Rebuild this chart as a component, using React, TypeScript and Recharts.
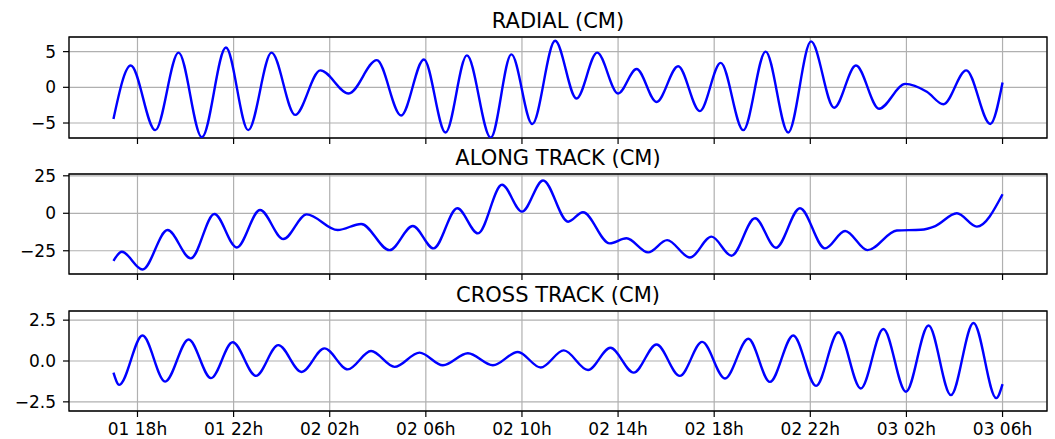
import React from "react";
import { LineChart, Line, XAxis, YAxis, CartesianGrid, ReferenceArea } from "recharts";

// ---- Data (hours since 01 00h) ----
const xTicks = [18, 22, 26, 30, 34, 38, 42, 46, 50, 54];
const xTickLabels = ["01 18h", "01 22h", "02 02h", "02 06h", "02 10h", "02 14h", "02 18h", "02 22h", "03 02h", "03 06h"];
const xDomain: [number, number] = [15.15, 55.85];

const radialTimes = [17.0, 17.72, 18.74, 19.71, 20.68, 21.68, 22.61, 23.58, 24.56, 25.61, 26.79, 27.96, 28.97, 29.92, 30.82, 31.71, 32.7, 33.56, 34.43, 35.38, 36.27, 37.13, 38.0, 38.77, 39.6, 40.5, 41.4, 42.27, 43.21, 44.14, 45.08, 46.03, 46.99, 47.9, 48.86, 49.95, 50.85, 51.54, 52.49, 53.49, 54.0];
const radialValues = [-4.43, 3.05, -6.0, 4.86, -7.0, 5.57, -6.0, 4.86, -3.86, 2.38, -0.86, 3.81, -3.95, 3.9, -6.33, 4.48, -7.05, 4.62, -5.14, 6.52, -1.57, 4.86, -0.86, 2.57, -2.05, 2.95, -3.33, 3.43, -6.0, 5.0, -6.33, 6.43, -2.86, 3.05, -3.0, 0.48, -0.62, -2.38, 2.38, -5.14, 0.67];
const radialTicks = [-5, 0, 5];
const radialTickLabels = ["\u22125", "0", "5"];

const alongTimes = [17.0, 17.35, 18.21, 19.25, 20.22, 21.2, 22.13, 23.1, 24.07, 25.04, 26.33, 27.31, 28.49, 29.46, 30.32, 31.31, 32.17, 33.17, 34.0, 34.88, 35.92, 36.54, 37.65, 38.35, 39.25, 40.04, 40.99, 41.89, 42.72, 43.7, 44.57, 45.57, 46.61, 47.45, 48.38, 49.6, 50.6, 51.2, 52.1, 52.93, 54.0];
const alongValues = [-31.7, -25.7, -37.5, -11.2, -30.1, -0.45, -22.8, 2.2, -17.2, -0.7, -11.2, -7.1, -24.6, -8.5, -23.4, 3.35, -13.4, 19.0, 1.1, 21.9, -5.6, 0.67, -20.1, -16.7, -26.1, -17.9, -29.5, -15.6, -28.3, -3.35, -23.0, 3.35, -23.4, -11.8, -24.6, -11.5, -11.0, -8.5, 0.0, -8.9, 12.7];
const alongTicks = [-25, 0, 25];
const alongTickLabels = ["\u221225", "0", "25"];

const crossTimes = [17.0, 17.24, 18.21, 19.15, 20.13, 21.06, 21.96, 22.93, 23.86, 24.83, 25.78, 26.75, 27.72, 28.7, 29.74, 30.71, 31.75, 32.79, 33.83, 34.78, 35.74, 36.75, 37.68, 38.65, 39.6, 40.57, 41.5, 42.45, 43.42, 44.32, 45.29, 46.24, 47.17, 48.1, 49.04, 49.98, 50.92, 51.85, 52.79, 53.74, 54.0];
const crossValues = [-0.71, -1.46, 1.56, -1.26, 1.32, -1.05, 1.15, -0.91, 0.97, -0.67, 0.77, -0.51, 0.61, -0.36, 0.51, -0.26, 0.47, -0.26, 0.55, -0.4, 0.65, -0.55, 0.81, -0.71, 1.01, -0.91, 1.17, -1.07, 1.36, -1.28, 1.56, -1.52, 1.76, -1.68, 1.96, -1.88, 2.17, -2.09, 2.33, -2.27, -1.42];
const crossTicks = [-2.5, 0, 2.5];
const crossTickLabels = ["\u22122.5", "0.0", "2.5"];

const FONT = "'DejaVu Sans', sans-serif";
const W = 1055;
const PLOT_LEFT = 69;
const PLOT_RIGHT_MARGIN = 8;
const TOP_PAD = 14;

type PanelProps = {
  times: number[];
  values: number[];
  yDomain: [number, number];
  yTicks: number[];
  yTickLabels: string[];
  plotTop: number;
  plotHeight: number;
  showXLabels: boolean;
};

function Panel({ times, values, yDomain, yTicks, yTickLabels, plotTop, plotHeight, showXLabels }: PanelProps) {
  const data = times.map((t, i) => ({ t, v: values[i] }));
  const xAxisHeight = showXLabels ? 28 : 8;
  const height = TOP_PAD + plotHeight + xAxisHeight;
  return (
    <div style={{ position: "absolute", left: 0, top: plotTop - TOP_PAD }}>
      <LineChart
        width={W}
        height={height}
        data={data}
        margin={{ top: TOP_PAD, right: PLOT_RIGHT_MARGIN, bottom: 0, left: 0 }}
      >
        <CartesianGrid stroke="#b0b0b0" strokeWidth={1.2} />
        <XAxis
          dataKey="t"
          type="number"
          domain={xDomain}
          ticks={xTicks}
          allowDataOverflow
          axisLine={false}
          tickLine={{ stroke: "#000", strokeWidth: 1.2 }}
          tickSize={6}
          tickMargin={6}
          height={xAxisHeight}
          interval={0}
          tick={{ fill: "#000", fontSize: 17, fontFamily: FONT }}
          tickFormatter={(v: number) => (showXLabels ? xTickLabels[xTicks.indexOf(v)] ?? "" : "")}
        />
        <YAxis
          type="number"
          domain={yDomain}
          ticks={yTicks}
          allowDataOverflow
          width={PLOT_LEFT}
          axisLine={false}
          tickLine={{ stroke: "#000", strokeWidth: 1.2 }}
          tickSize={6}
          tickMargin={7}
          interval={0}
          tick={{ fill: "#000", fontSize: 17, fontFamily: FONT }}
          tickFormatter={(v: number) => yTickLabels[yTicks.indexOf(v)] ?? ""}
        />
        <ReferenceArea
          x1={xDomain[0]}
          x2={xDomain[1]}
          y1={yDomain[0]}
          y2={yDomain[1]}
          fill="none"
          stroke="#000"
          strokeWidth={1.3}
          ifOverflow="visible"
        />
        <Line
          type="monotone"
          dataKey="v"
          stroke="#0000ff"
          strokeWidth={2.4}
          dot={false}
          isAnimationActive={false}
        />
      </LineChart>
    </div>
  );
}

const titles = [
  { text: "RADIAL (CM)", y: 28.3 },
  { text: "ALONG TRACK (CM)", y: 165 },
  { text: "CROSS TRACK (CM)", y: 302 },
];

export default function App() {
  const centerX = (PLOT_LEFT + (W - PLOT_RIGHT_MARGIN)) / 2;
  return (
    <div style={{ position: "absolute", left: 0, top: 0, width: W, height: 439, background: "#fff", overflow: "hidden" }}>
      <Panel times={radialTimes} values={radialValues} yDomain={[-7.1, 7.05]} yTicks={radialTicks} yTickLabels={radialTickLabels} plotTop={37} plotHeight={101} showXLabels={false} />
      <Panel times={alongTimes} values={alongValues} yDomain={[-40.5, 26.2]} yTicks={alongTicks} yTickLabels={alongTickLabels} plotTop={174} plotHeight={100} showXLabels={false} />
      <Panel times={crossTimes} values={crossValues} yDomain={[-3.06, 3.06]} yTicks={crossTicks} yTickLabels={crossTickLabels} plotTop={311} plotHeight={100} showXLabels={true} />
      <svg width={W} height={439} style={{ position: "absolute", left: 0, top: 0, pointerEvents: "none" }}>
        {titles.map((t) => (
          <text key={t.text} x={centerX} y={t.y} textAnchor="middle" fontSize={21} fontFamily={FONT} fill="#000">
            {t.text}
          </text>
        ))}
      </svg>
    </div>
  );
}
